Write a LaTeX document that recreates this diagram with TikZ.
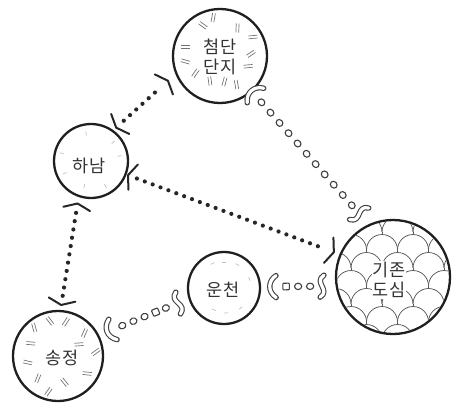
\documentclass[tikz,border=0pt]{standalone}
\usepackage{fontspec}
\newfontfamily\krfont{Noto Sans CJK KR}
\usetikzlibrary{calc,arrows.meta,decorations.markings}
\tikzset{
 hub/.style={circle, draw=black!88, line width=2.3pt, minimum size=#1, inner sep=0pt},
 lbl/.style={font=\krfont\fontsize{17.5}{20}\selectfont, align=center, text=black!80, inner sep=0.8pt},
 dotline/.style={draw=black!85, line width=4.2pt, line cap=round, dash pattern=on 0pt off 8.4pt},
 cupline/.style={draw=black!85, line width=2pt, line cap=butt, dash pattern=on 0pt off 5000pt,
   {Straight Barb[length=5.5pt,width=27pt,line width=2pt,round]}-{Straight Barb[length=5.5pt,width=27pt,line width=2pt,round]}},
 tube/.style={draw=black!75, line width=1.1pt, double=white, double distance=3.2pt, line cap=round, line join=round},
 bead/.style={draw=black!75, line width=1.1pt, fill=white},
 hatch/.style={draw=black!55, line width=0.7pt},
 faint/.style={draw=black!25, line width=0.7pt},
 fishscale/.style={draw=black!65, line width=0.75pt},
}
\newcommand\dotlink[6]{%
 \draw[cupline, shorten <=#3, shorten >=#4] (#1) -- (#2);
 \draw[dotline, shorten <=#5, shorten >=#6] (#1) -- (#2);}
\newcommand\bcirc{\draw[bead] (0,0) ellipse (3.6pt and 3.2pt);}
\newcommand\bsq{\draw[bead, rounded corners=0.8pt] (-3.3pt,-3.3pt) rectangle (3.3pt,3.3pt);}
\newcommand\tubeA{\draw[tube] (1pt,-11pt) .. controls (-8pt,-5pt) and (-7pt,6pt) .. (1pt,11pt);}
\newcommand\tubeB{\draw[tube] (-2pt,-11pt) .. controls (9pt,-4pt) and (-9pt,4pt) .. (2pt,11pt);}
\begin{document}
\begin{tikzpicture}[x=1pt,y=-1pt]
\useasboundingbox (0,0) rectangle (460,409);
% hubs
\node[hub=94pt] (cheom) at (220,56) {};
\node[hub=74pt] (hanam) at (91,161) {};
\node[hub=114pt] (gijon) at (393,277) {};
\node[hub=90pt] (song) at (58,356) {};
\node[hub=72pt] (uncheon) at (224,288) {};
% hatching in cheom
\begin{scope}[shift={(cheom.center)}]
\foreach \A/\R/\T in {119/35/25, 100/39/-20, 58/33/30, 165/36/15, 4/31/30, 189/35/-25, 340/30/25, 248/27/30, 280/26/-25, 215/30/20, 300/33/-20, 30/38/-25}
 {\draw[hatch, shift={(-\A:\R)}, rotate=\A+\T] (-4.5,-1.4) -- (4.5,-1.4) (-4.5,1.4) -- (4.5,1.4);}
\end{scope}
% hatching in song
\begin{scope}[shift={(song.center)}]
\foreach \A/\R/\T in {103/36/25, 77/35/-20, 41/35/25, 155/30/20, 6/38/30, 192/31/-25, 329/34/25, 228/30/20, 284/27/25, 29/24/-25, 255/37/-20, 130/37/-25}
 {\draw[hatch, shift={(-\A:\R)}, rotate=\A+\T] (-4.5,-1.4) -- (4.5,-1.4) (-4.5,1.4) -- (4.5,1.4);}
\end{scope}
% faint marks in hanam and uncheon
\begin{scope}[shift={(hanam.center)}]
\foreach \A/\R in {165/30, 100/28, 40/29, 10/29, 255/26, 300/29, 205/29}
 {\draw[faint, shift={(-\A:\R)}, rotate=\A] (-2,0) -- (2,0);}
\end{scope}
\begin{scope}[shift={(uncheon.center)}]
\foreach \A/\R in {115/27, 90/26, 60/27, 245/24, 275/25, 310/26, 20/27}
 {\draw[faint, shift={(-\A:\R)}, rotate=\A+90] (-2,0) -- (2,0);}
\end{scope}
% fish scale pattern in gijon
\begin{scope}
\clip (gijon.center) circle (55.6pt);
\foreach \j in {-1,...,6}{
 \pgfmathsetmacro\yy{232+18*\j}
 \pgfmathsetmacro\off{mod(\j+2,2)*15.5}
 \foreach \i in {-3,...,2}{
  \pgfmathsetmacro\xx{382+31*\i-\off}
  \draw[fishscale] (\xx,\yy) arc[start angle=180,end angle=0,radius=15.5pt];
  \draw[fishscale] (\xx,\yy) -- ++(0,2.5);
 }}
\end{scope}
% labels
\node[lbl] (cheomT) at (220,57) {첨단\\단지};
\node[lbl] (hanamT) at (89,166) {하남};
\node[lbl, fill=white] (gijonT) at (389,280) {기존\\도심};
\node[lbl] (songT) at (62,358) {송정};
\node[lbl] (uncheonT) at (223,290) {운천};
% dotted links
\dotlink{hanam.54}{cheom.202}{2.7pt}{9pt}{14pt}{21pt}
\dotlink{hanam.-21}{gijon.157}{0.5pt}{5pt}{11pt}{23pt}
\dotlink{hanam.251}{song.87}{5.5pt}{4pt}{16pt}{13pt}
% bead chains
\path[decorate, decoration={markings,
  mark=at position 4pt with {\tubeA},
  mark=between positions 14pt and -25pt step 13.7pt with {\bcirc},
  mark=at position -14pt with {\tubeB}}] (cheom.-48) -- (gijon.115.5);
\path[decorate, decoration={markings,
  mark=at position 14pt with {\tubeA},
  mark=at position 25pt with {\bcirc},
  mark=at position 37pt with {\bcirc},
  mark=at position 49pt with {\bcirc},
  mark=at position 61pt with {\bsq},
  mark=at position 72pt with {\bcirc},
  mark=at position -11pt with {\tubeB}}] (song.27) -- (uncheon.197);
\path[decorate, decoration={markings,
  mark=at position 14pt with {\tubeA},
  mark=at position 25pt with {\bsq},
  mark=at position 37pt with {\bcirc},
  mark=at position 49pt with {\bcirc},
  mark=at position -13.5pt with {\tubeB}}] (uncheon.2) -- (gijon.189);
\end{tikzpicture}
\end{document}
